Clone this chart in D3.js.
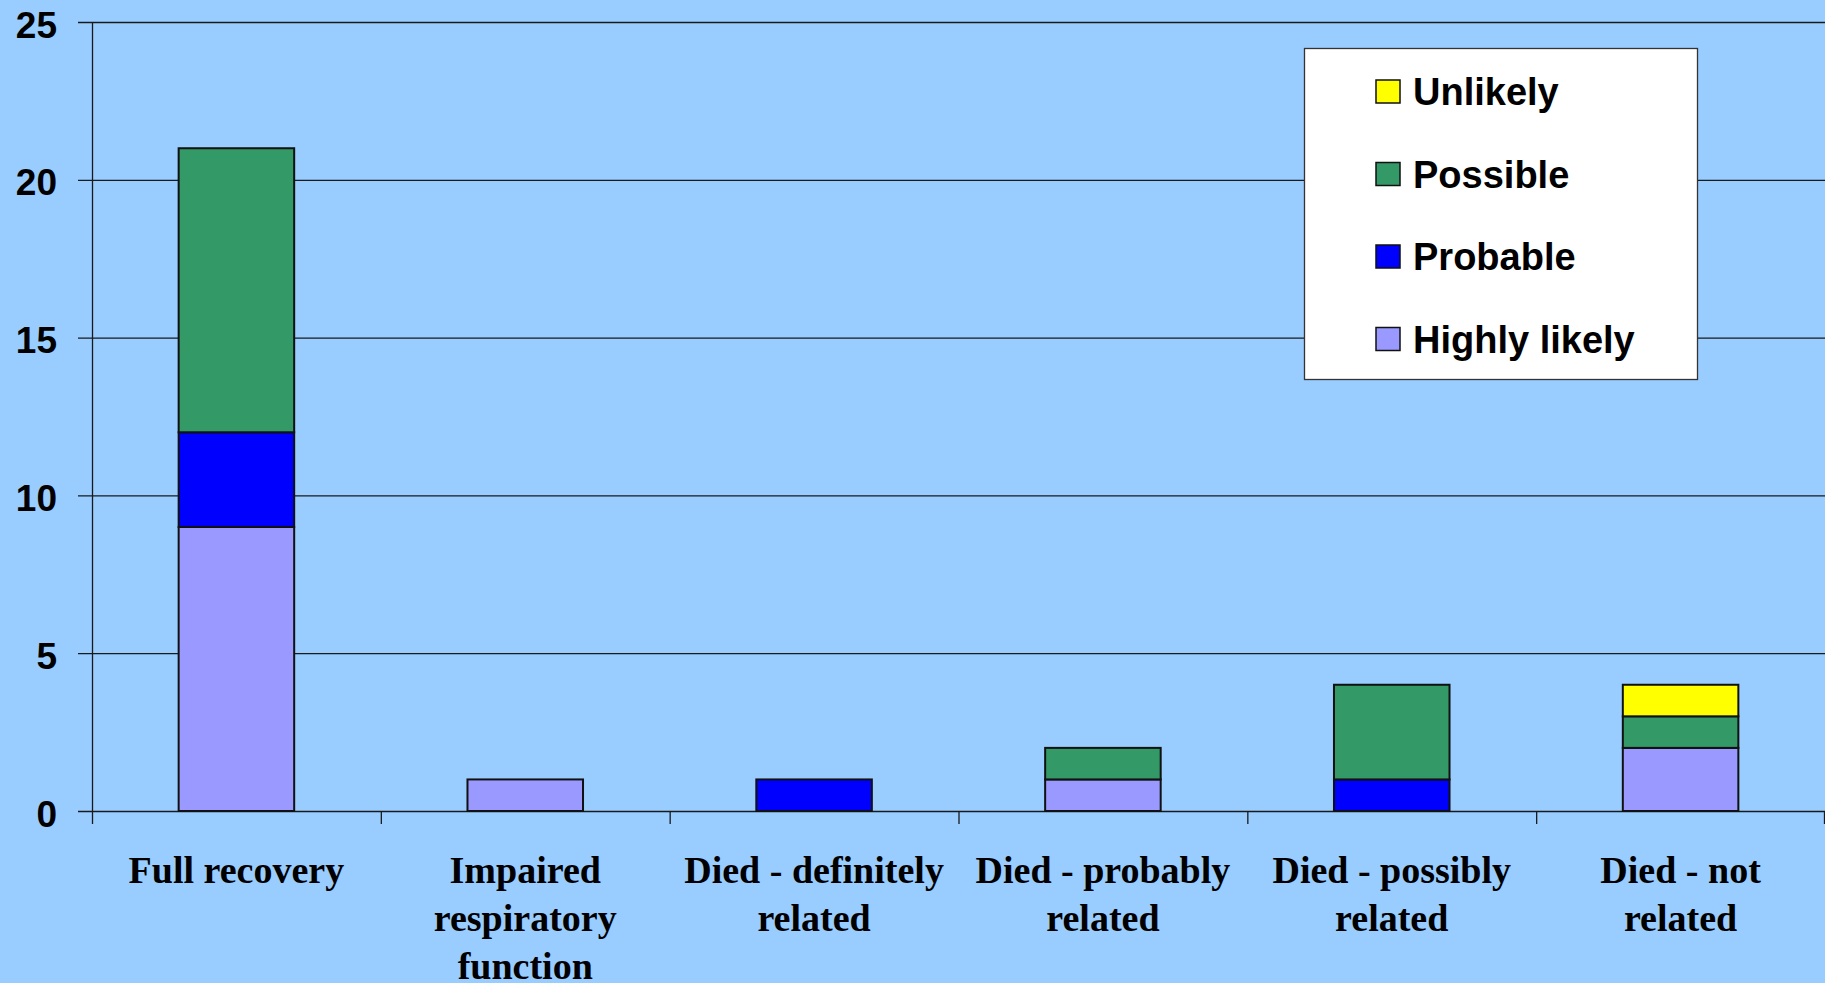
<!DOCTYPE html>
<html>
<head>
<meta charset="utf-8">
<script src="https://cdn.jsdelivr.net/npm/d3@7"></script>
<style>
  html, body { margin: 0; padding: 0; background: #99CCFF; }
  svg { display: block; }
</style>
</head>
<body>
<svg id="chart" width="1825" height="983"></svg>
<script>
// Outcome categories (multi-line labels along the x axis)
const categories = [
  "Full recovery",
  "Impaired respiratory function",
  "Died - definitely related",
  "Died - probably related",
  "Died - possibly related",
  "Died - not related"
];
const categoryLines = [
  ["Full recovery"],
  ["Impaired", "respiratory", "function"],
  ["Died - definitely", "related"],
  ["Died - probably", "related"],
  ["Died - possibly", "related"],
  ["Died - not", "related"]
];

// Stacked series, bottom to top
const seriesNames = ["Highly likely", "Probable", "Possible", "Unlikely"];
const highlyLikely = [9, 1, 0, 1, 0, 2];
const probable     = [3, 0, 1, 0, 1, 0];
const possible     = [9, 0, 0, 1, 3, 1];
const unlikely     = [0, 0, 0, 0, 0, 1];
const seriesColors = ["#9999FF", "#0000FF", "#339966", "#FFFF00"];

const yTicks = [0, 5, 10, 15, 20, 25];

(function () {
  // Build rows for d3.stack
  const rows = categories.map((c, i) => ({
    category: c,
    "Highly likely": highlyLikely[i],
    "Probable": probable[i],
    "Possible": possible[i],
    "Unlikely": unlikely[i]
  }));

  const svg = d3.select("#chart");
  const W = 1825, H = 983;
  const plotLeft = 92, plotRight = 1825, plotTop = 22, plotBottom = 811;

  const x = d3.scaleBand().domain(categories).range([plotLeft, plotRight]).paddingInner(0).paddingOuter(0);
  const y = d3.scaleLinear().domain([0, 25]).range([plotBottom, plotTop]);
  const color = d3.scaleOrdinal().domain(seriesNames).range(seriesColors);

  svg.append("rect").attr("width", W).attr("height", H).attr("fill", "#99CCFF");

  // Horizontal gridlines with left tick stubs
  svg.append("g").selectAll("line").data(yTicks).join("line")
    .attr("x1", plotLeft - 14).attr("x2", plotRight)
    .attr("y1", d => y(d) + 0.5).attr("y2", d => y(d) + 0.5)
    .attr("stroke", "#1a1a1a").attr("stroke-width", 1.3);

  // Y-axis line
  svg.append("line")
    .attr("x1", plotLeft + 0.5).attr("x2", plotLeft + 0.5)
    .attr("y1", plotTop).attr("y2", plotBottom + 13)
    .attr("stroke", "#1a1a1a").attr("stroke-width", 1.3);

  // X-axis ticks at category boundaries
  const boundaries = categories.map(c => x(c)).concat([x(categories[categories.length - 1]) + x.bandwidth()]);
  svg.append("g").selectAll("line").data(boundaries.slice(1)).join("line")
    .attr("x1", d => Math.min(d, W - 1) + 0.5).attr("x2", d => Math.min(d, W - 1) + 0.5)
    .attr("y1", plotBottom).attr("y2", plotBottom + 13)
    .attr("stroke", "#1a1a1a").attr("stroke-width", 1.3);

  // Y tick labels
  svg.append("g").selectAll("text").data(yTicks).join("text")
    .attr("x", 57).attr("y", d => y(d) + 15.5)
    .attr("text-anchor", "end")
    .attr("font-family", "'Liberation Sans', Arial, sans-serif")
    .attr("font-weight", "bold").attr("font-size", 37)
    .attr("fill", "#000")
    .text(d => d);

  // Stacked bars
  const stacked = d3.stack().keys(seriesNames)(rows);
  const barW = x.bandwidth() * 0.4;

  svg.append("g").selectAll("g").data(stacked).join("g")
    .attr("fill", d => color(d.key))
    .selectAll("rect").data(d => d.filter(s => s[1] - s[0] > 0)).join("rect")
    .attr("x", d => x(d.data.category) + (x.bandwidth() - barW) / 2)
    .attr("y", d => y(d[1]))
    .attr("width", barW)
    .attr("height", d => y(d[0]) - y(d[1]))
    .attr("stroke", "#111").attr("stroke-width", 2);

  // Category labels (the third line of the long label runs off the bottom edge)
  const labelG = svg.append("g");
  categories.forEach((c, i) => {
    const cx = x(c) + x.bandwidth() / 2;
    const t = labelG.append("text")
      .attr("text-anchor", "middle")
      .attr("font-family", "'Liberation Serif', 'Times New Roman', serif")
      .attr("font-weight", "bold").attr("font-size", 38)
      .attr("fill", "#000");
    categoryLines[i].forEach((ln, j) => {
      t.append("tspan").attr("x", cx).attr("y", 883 + j * 48).text(ln);
    });
  });

  // Legend
  const lg = svg.append("g");
  lg.append("rect")
    .attr("x", 1304.5).attr("y", 48.5).attr("width", 393).attr("height", 331)
    .attr("fill", "#fff").attr("stroke", "#333").attr("stroke-width", 1.3);

  const legendOrder = ["Unlikely", "Possible", "Probable", "Highly likely"];
  legendOrder.forEach((name, i) => {
    const base = 105 + i * 82.5;
    lg.append("rect")
      .attr("x", 1376).attr("y", base - 25).attr("width", 24).attr("height", 23)
      .attr("fill", color(name)).attr("stroke", "#111").attr("stroke-width", 1.5);
    lg.append("text")
      .attr("x", 1413).attr("y", base)
      .attr("font-family", "'Liberation Sans', Arial, sans-serif")
      .attr("font-weight", "bold").attr("font-size", 38)
      .attr("fill", "#000")
      .text(name);
  });
})();
</script>
</body>
</html>
